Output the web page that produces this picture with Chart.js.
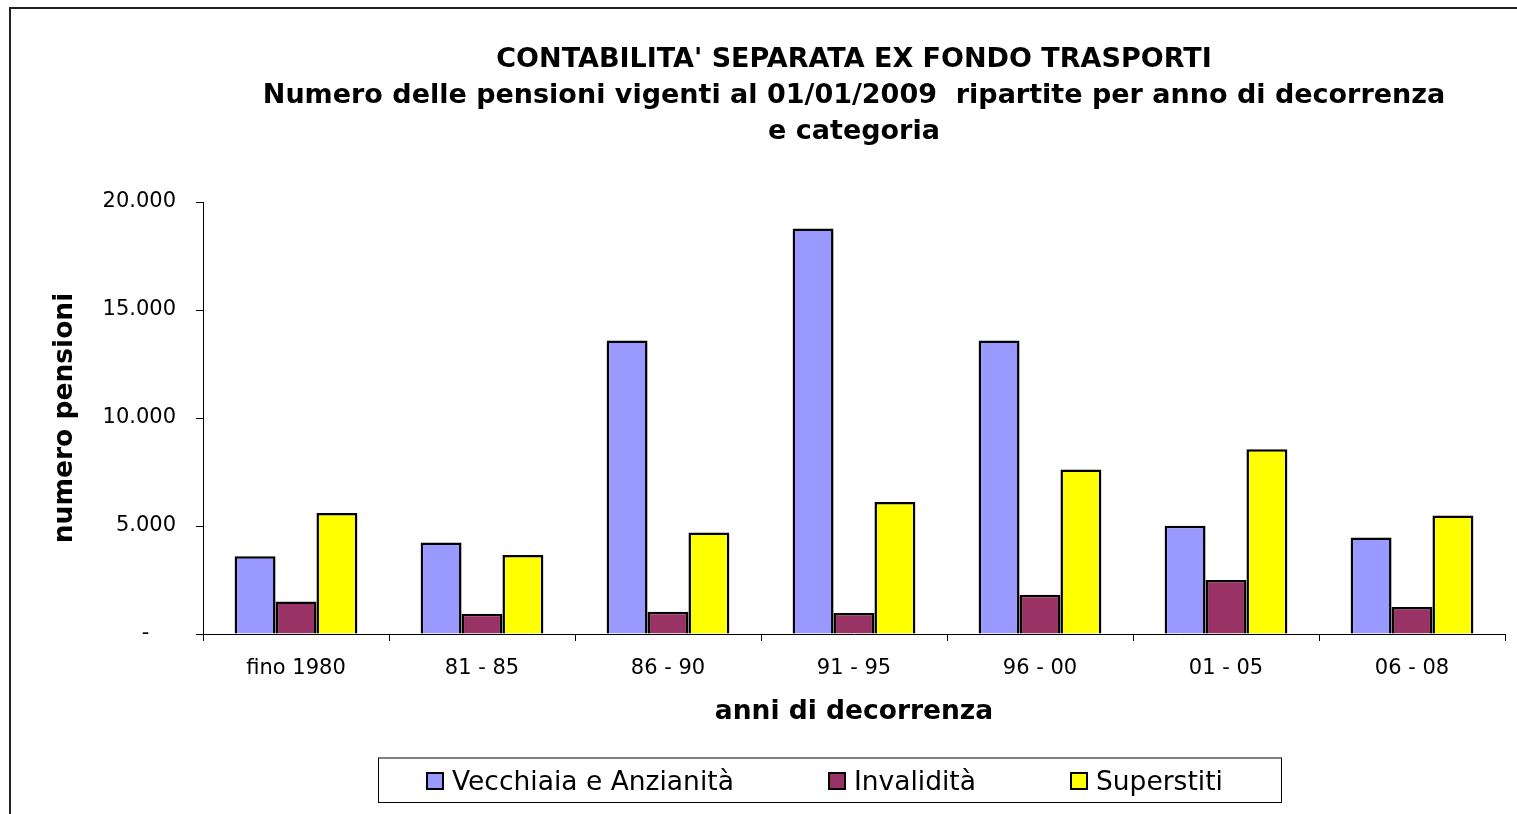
<!DOCTYPE html>
<html>
<head>
<meta charset="utf-8">
<script src="https://cdn.jsdelivr.net/npm/chart.js@4"></script>
<style>
  html, body { margin: 0; padding: 0; background: #fff; overflow: hidden; }
  #wrap { position: relative; width: 1517px; height: 814px; }
  #legend {
    position: absolute; left: 378px; top: 757px; width: 904px; height: 46px;
    box-sizing: border-box; border: 1px solid #000; border-top: 2px solid #808080;
    display: flex; align-items: center; padding-left: 47px;
    font-family: 'DejaVu Sans', sans-serif; font-size: 26.5px; color: #000;
    white-space: nowrap;
  }
  #legend .item { display: flex; align-items: center; margin-right: 94px; flex-shrink: 0; }
  #legend .box { width: 14px; height: 14px; border: 2px solid #000; margin-right: 8px; flex-shrink: 0; }
</style>
</head>
<body>
<div id="wrap">
  <canvas id="myChart" width="1517" height="814"></canvas>
  <div id="legend"></div>
</div>
<script>
const categories = ['fino 1980', '81 - 85', '86 - 90', '91 - 95', '96 - 00', '01 - 05', '06 - 08'];
const vecchiaia = [3600, 4240, 13590, 18770, 13590, 5010, 4470];
const invalidita = [1510, 940, 1030, 970, 1820, 2500, 1250];
const superstiti = [5600, 3660, 4700, 6110, 7610, 8550, 5490];
const seriesNames = ['Vecchiaia e Anzianità', 'Invalidità', 'Superstiti'];
const seriesColors = ['#9999FF', '#993366', '#FFFF00'];
const yMax = 20000;
const yStep = 5000;

const titleLines = [
    "CONTABILITA' SEPARATA EX FONDO TRASPORTI",
    'Numero delle pensioni vigenti al 01/01/2009  ripartite per anno di decorrenza',
    'e categoria'
];

const font = 'DejaVu Sans';

// thousands with a dot, zero shown as a dash like the spreadsheet
function fmt(v) {
    if (v === 0) return '-    ';
    return String(v).replace(/\B(?=(\d{3})+(?!\d))/g, '.');
}

const frame = {
    id: 'frame',
    beforeDraw(chart) {
        const ctx = chart.ctx;
        ctx.save();
        ctx.fillStyle = '#fff';
        ctx.fillRect(0, 0, chart.width, chart.height);
        ctx.strokeStyle = '#222';
        ctx.lineWidth = 2;
        ctx.beginPath();
        ctx.moveTo(10, chart.height);
        ctx.lineTo(10, 8);
        ctx.lineTo(chart.width, 8);
        ctx.stroke();
        ctx.restore();
    }
};

const data = {
    labels: categories,
    datasets: [vecchiaia, invalidita, superstiti].map((vals, i) => ({
        label: seriesNames[i],
        data: vals,
        backgroundColor: seriesColors[i],
        borderColor: '#000',
        borderWidth: 2.5,
        categoryPercentage: 0.66,
        barPercentage: 1.0
    }))
};

const options = {
    responsive: false,
    animation: false,
    devicePixelRatio: 1,
    layout: { padding: { left: 45, right: 12, top: 0, bottom: 82 } },
    plugins: {
        legend: { display: false },
        tooltip: { enabled: false },
        title: {
            display: true,
            fullSize: false,
            text: titleLines,
            color: '#000',
            font: { family: font, size: 27, weight: 'bold', lineHeight: 36 / 27 },
            padding: { top: 42, bottom: 52 }
        }
    },
    scales: {
        x: {
            border: { color: '#000', width: 1 },
            grid: { display: true, drawOnChartArea: false, drawTicks: true, tickLength: 7, color: '#000', offset: true },
            ticks: { color: '#000', font: { family: font, size: 21 }, padding: 15, maxRotation: 0 },
            title: {
                display: true, text: 'anni di decorrenza', color: '#000',
                font: { family: font, size: 26.5, weight: 'bold' },
                padding: { top: 0, bottom: 4 }
            }
        },
        y: {
            min: 0,
            max: yMax,
            border: { color: '#000', width: 1 },
            grid: { display: true, drawOnChartArea: false, drawTicks: true, tickLength: 7, color: '#000' },
            ticks: { stepSize: yStep, color: '#000', font: { family: font, size: 21 }, padding: 20, callback: fmt },
            title: {
                display: true, text: 'numero pensioni', color: '#000',
                font: { family: font, size: 26.5, weight: 'bold' },
                padding: { top: 4, bottom: 4 }
            },
            afterFit(scale) { scale.width = 158; }
        }
    }
};

const myChart = new Chart(document.getElementById('myChart'), {
    type: 'bar',
    data,
    options,
    plugins: [frame]
});

// legend in a box under the chart, built from the datasets
const legendEl = document.getElementById('legend');
myChart.data.datasets.forEach(ds => {
    const item = document.createElement('div');
    item.className = 'item';
    const box = document.createElement('span');
    box.className = 'box';
    box.style.background = ds.backgroundColor;
    const txt = document.createElement('span');
    txt.textContent = ds.label;
    item.appendChild(box);
    item.appendChild(txt);
    legendEl.appendChild(item);
});
</script>
</body>
</html>
